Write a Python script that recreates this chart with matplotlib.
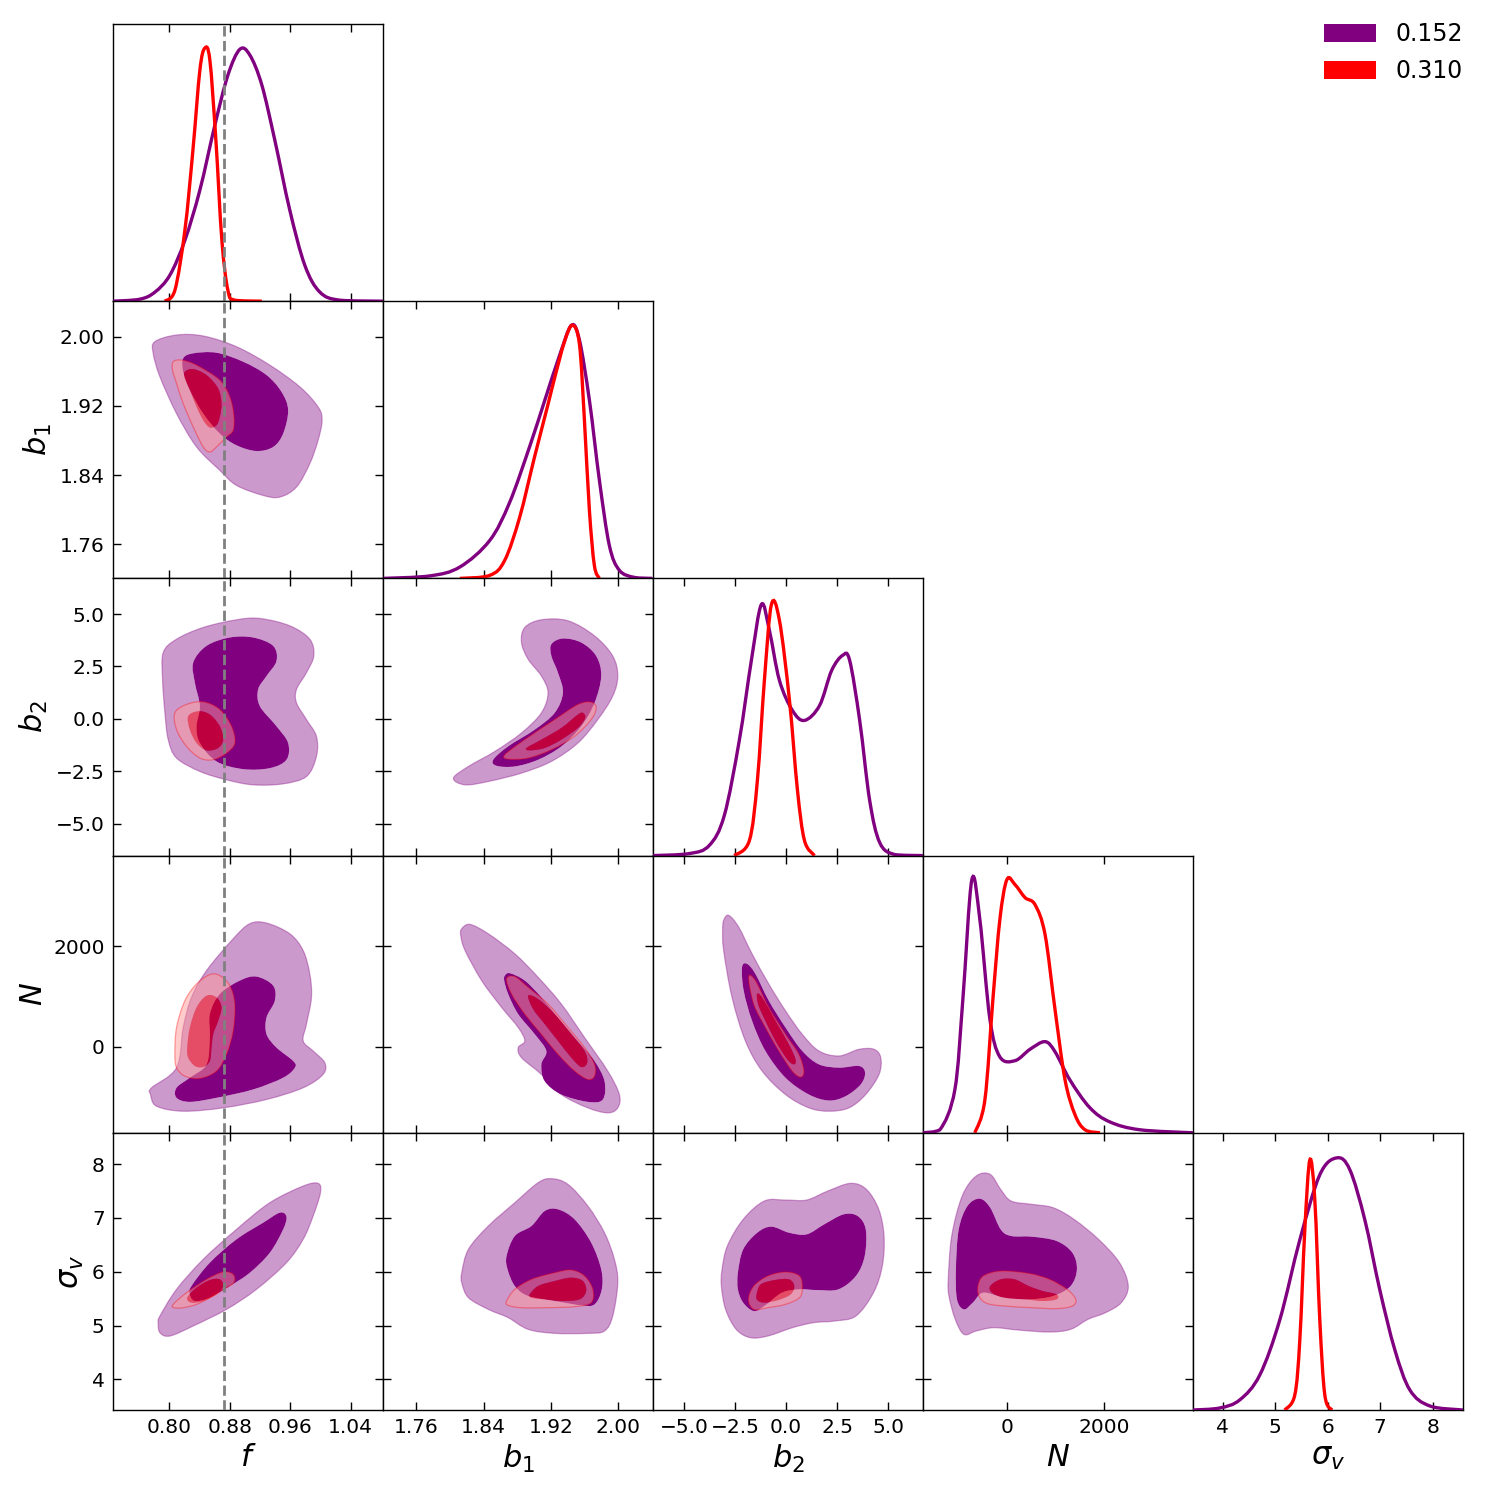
import numpy as np
import matplotlib
matplotlib.use("Agg")
import matplotlib.pyplot as plt
from matplotlib.path import Path
from matplotlib.patches import PathPatch, Patch

# ---------------- data ----------------
param_labels = [r'$f$', r'$b_1$', r'$b_2$', r'$N$', r'$\sigma_v$']
param_limits = [(0.7256, 1.083), (1.7205, 2.041), (-6.52, 6.70), (-1722, 3815), (3.431, 8.58)]
param_ticks = [[0.80, 0.88, 0.96, 1.04], [1.76, 1.84, 1.92, 2.00],
               [-5.0, -2.5, 0.0, 2.5, 5.0], [0, 2000], [4, 5, 6, 7, 8]]
tick_formats = ['{:.2f}', '{:.2f}', '{:.1f}', '{:.0f}', '{:.0f}']
sample_names = ['0.152', '0.310']
f_fiducial = 0.872

# 1D marginals (normalised to peak 1)
f_A_x = [0.7256, 0.7612, 0.7811, 0.8009, 0.8208, 0.8406, 0.8605, 0.8777, 0.8935, 0.9068, 0.9226, 0.9398, 0.9596, 0.9795, 0.9994, 1.0258, 1.0827]
f_A_p = [0.0, 0.008, 0.036, 0.103, 0.241, 0.439, 0.696, 0.893, 0.995, 0.972, 0.854, 0.636, 0.360, 0.142, 0.036, 0.004, 0.0]
f_B_x = [0.7943, 0.8075, 0.8208, 0.8314, 0.8406, 0.8472, 0.8538, 0.8618, 0.8697, 0.8777, 0.8869, 0.9226]
f_B_p = [0.0, 0.043, 0.281, 0.597, 0.913, 1.0, 0.953, 0.636, 0.241, 0.043, 0.004, 0.0]

b1_A_x = [1.7206, 1.7762, 1.8117, 1.8472, 1.8708, 1.8945, 1.9122, 1.9300, 1.9442, 1.9537, 1.9655, 1.9774, 1.9892, 2.0011, 2.0188, 2.0401]
b1_A_p = [0.0, 0.010, 0.045, 0.150, 0.300, 0.520, 0.700, 0.880, 1.0, 0.941, 0.704, 0.387, 0.130, 0.032, 0.004, 0.0]
b1_B_x = [1.8117, 1.8472, 1.8649, 1.8826, 1.9004, 1.9158, 1.9241, 1.9359, 1.9454, 1.9537, 1.9596, 1.9655, 1.9714, 1.9774]
b1_B_p = [0.0, 0.012, 0.071, 0.240, 0.480, 0.680, 0.790, 0.935, 1.0, 0.925, 0.625, 0.269, 0.051, 0.0]

b2_A_x = [-6.568, -4.750, -3.767, -3.031, -2.294, -1.704, -1.213, -0.820, -0.329, 0.310, 0.899, 1.636, 2.225, 2.766, 3.109, 3.600, 4.091, 4.583, 5.320, 6.695]
b2_A_p = [0.0, 0.008, 0.040, 0.158, 0.455, 0.771, 0.992, 0.889, 0.692, 0.573, 0.534, 0.593, 0.731, 0.791, 0.771, 0.534, 0.217, 0.051, 0.004, 0.0]
b2_B_x = [-2.540, -1.803, -1.410, -1.066, -0.722, -0.329, 0.162, 0.555, 0.899, 1.390]
b2_B_p = [0.0, 0.059, 0.296, 0.692, 0.992, 0.929, 0.613, 0.257, 0.059, 0.0]

N_A_x = [-1725, -1376, -1069, -905, -720, -556, -351, -146, 166, 473, 781, 986, 1290, 1700, 2110, 2725, 3812]
N_A_p = [0.0, 0.012, 0.170, 0.526, 1.0, 0.842, 0.450, 0.300, 0.285, 0.330, 0.360, 0.320, 0.209, 0.099, 0.043, 0.012, 0.0]
N_B_x = [-658, -453, -289, -146, -2, 166, 371, 576, 781, 986, 1191, 1396, 1601, 1909]
N_B_p = [0.0, 0.130, 0.526, 0.842, 1.0, 0.980, 0.929, 0.901, 0.783, 0.486, 0.209, 0.071, 0.012, 0.0]

sv_A_x = [3.426, 3.941, 4.323, 4.704, 5.086, 5.468, 5.849, 6.174, 6.422, 6.708, 6.994, 7.281, 7.567, 7.948, 8.578]
sv_A_p = [0.0, 0.008, 0.040, 0.138, 0.356, 0.672, 0.929, 0.996, 0.949, 0.751, 0.474, 0.237, 0.079, 0.016, 0.0]
sv_B_x = [5.181, 5.372, 5.468, 5.563, 5.659, 5.754, 5.849, 5.945, 6.079]
sv_B_p = [0.0, 0.059, 0.277, 0.711, 0.988, 0.830, 0.356, 0.059, 0.0]

# 2D credible contours: (x values, y values); A = 0.152, B = 0.310; 95 = outer, 68 = inner
f_b1_A95 = ([0.7810, 0.8097, 0.8450, 0.8891, 0.9332, 0.9729, 0.9971, 1.0024, 0.9971, 0.9861, 0.9685, 0.9464, 0.9244, 0.8891, 0.8670, 0.8362, 0.8097, 0.7877, 0.7788],
            [1.9942, 2.0019, 2.0008, 1.9884, 1.9671, 1.9420, 1.9188, 1.9034, 1.8802, 1.8531, 1.8261, 1.8145, 1.8164, 1.8280, 1.8454, 1.8725, 1.9111, 1.9536, 1.9807])
f_b1_A68 = ([0.8185, 0.8318, 0.8626, 0.8979, 0.9288, 0.9486, 0.9574, 0.9508, 0.9376, 0.9155, 0.8891, 0.8670, 0.8450, 0.8273, 0.8185],
            [1.9749, 1.9807, 1.9814, 1.9710, 1.9556, 1.9362, 1.9150, 1.8879, 1.8725, 1.8678, 1.8744, 1.8879, 1.9111, 1.9382, 1.9594])
f_b1_B95 = ([0.8053, 0.8163, 0.8362, 0.8670, 0.8803, 0.8856, 0.8847, 0.8759, 0.8626, 0.8538, 0.8450, 0.8318, 0.8185, 0.8097, 0.8044],
            [1.9710, 1.9729, 1.9671, 1.9498, 1.9304, 1.9092, 1.8918, 1.8840, 1.8725, 1.8667, 1.8725, 1.8956, 1.9227, 1.9459, 1.9613])
f_b1_B68 = ([0.8207, 0.8318, 0.8494, 0.8648, 0.8692, 0.8670, 0.8626, 0.8538, 0.8450, 0.8362, 0.8273, 0.8207],
            [1.9594, 1.9625, 1.9556, 1.9401, 1.9227, 1.9072, 1.8976, 1.8949, 1.9034, 1.9188, 1.9382, 1.9517])

f_b2_A95 = ([0.7921, 0.8097, 0.8450, 0.8891, 0.9200, 0.9596, 0.9861, 0.9914, 0.9817, 0.9685, 0.9685, 0.9817, 0.9949, 0.9949, 0.9817, 0.9508, 0.9111, 0.8759, 0.8406, 0.8097, 0.7987, 0.7943, 0.7912],
            [3.162, 3.801, 4.360, 4.727, 4.791, 4.440, 3.801, 3.002, 2.204, 1.405, 0.767, -0.032, -0.830, -1.789, -2.747, -3.098, -3.146, -2.907, -2.507, -1.868, -0.990, 0.287, 1.884])
f_b2_A68 = ([0.8318, 0.8494, 0.8803, 0.9111, 0.9376, 0.9420, 0.9288, 0.9177, 0.9200, 0.9420, 0.9574, 0.9552, 0.9332, 0.8979, 0.8626, 0.8406, 0.8362, 0.8406, 0.8340],
            [2.683, 3.481, 3.881, 3.881, 3.481, 2.763, 2.044, 1.405, 0.607, -0.351, -1.150, -1.948, -2.348, -2.396, -2.028, -1.150, -0.351, 0.607, 1.725])
f_b2_B95 = ([0.8075, 0.8229, 0.8450, 0.8670, 0.8825, 0.8869, 0.8759, 0.8582, 0.8406, 0.8229, 0.8097],
            [0.287, 0.687, 0.814, 0.447, -0.351, -1.150, -1.629, -1.948, -1.868, -1.310, -0.511])
f_b2_B68 = ([0.8251, 0.8384, 0.8538, 0.8670, 0.8714, 0.8648, 0.8494, 0.8362, 0.8273],
            [0.128, 0.367, 0.208, -0.351, -0.990, -1.389, -1.501, -1.150, -0.511])

f_N_A95 = ([0.7766, 0.8097, 0.8185, 0.8295, 0.8494, 0.8847, 0.9067, 0.9288, 0.9596, 0.9773, 0.9861, 0.9883, 0.9817, 0.9773, 0.9905, 1.0059, 1.0037, 0.9773, 0.9288, 0.8714, 0.8185, 0.7832, 0.7753],
           [-823, -421, 381, 983, 1518, 2154, 2455, 2468, 2254, 1920, 1452, 983, 448, 114, -87, -321, -555, -823, -1057, -1224, -1291, -1191, -957])
f_N_A68 = ([0.8097, 0.8273, 0.8494, 0.8538, 0.8538, 0.8670, 0.8935, 0.9155, 0.9376, 0.9398, 0.9288, 0.9288, 0.9420, 0.9641, 0.9663, 0.9508, 0.9111, 0.8626, 0.8273, 0.8097],
           [-823, -622, -355, 181, 649, 1050, 1318, 1398, 1217, 916, 582, 247, -20, -288, -421, -622, -856, -1023, -1104, -1023])
f_N_B95 = ([0.8075, 0.8097, 0.8207, 0.8362, 0.8538, 0.8670, 0.8803, 0.8869, 0.8847, 0.8759, 0.8626, 0.8406, 0.8207, 0.8097],
           [-154, 381, 916, 1251, 1438, 1418, 1217, 850, 314, -154, -488, -635, -589, -421])
f_N_B68 = ([0.8238, 0.8273, 0.8362, 0.8494, 0.8626, 0.8692, 0.8648, 0.8582, 0.8560, 0.8538, 0.8450, 0.8340, 0.8251],
           [-20, 381, 783, 1017, 983, 783, 515, 247, -20, -288, -408, -388, -221])

f_sv_A95 = ([0.7877, 0.8097, 0.8450, 0.8891, 0.9332, 0.9773, 0.9971, 1.0002, 0.9905, 0.9773, 0.9552, 0.9155, 0.8759, 0.8318, 0.8009, 0.7877, 0.7854],
            [5.176, 5.672, 6.229, 6.786, 7.282, 7.591, 7.641, 7.467, 7.034, 6.601, 6.167, 5.672, 5.300, 4.991, 4.805, 4.867, 5.053])
f_sv_A68 = ([0.8295, 0.8538, 0.8891, 0.9244, 0.9464, 0.9552, 0.9508, 0.9332, 0.9067, 0.8803, 0.8538, 0.8340, 0.8273],
            [5.734, 6.167, 6.601, 6.910, 7.096, 7.022, 6.786, 6.353, 5.981, 5.734, 5.517, 5.455, 5.579])
f_sv_B95 = ([0.8053, 0.8229, 0.8494, 0.8714, 0.8847, 0.8856, 0.8714, 0.8538, 0.8362, 0.8185, 0.8062],
            [5.393, 5.610, 5.858, 5.994, 5.950, 5.796, 5.672, 5.517, 5.393, 5.331, 5.331])
f_sv_B68 = ([0.8238, 0.8362, 0.8538, 0.8670, 0.8714, 0.8626, 0.8450, 0.8295],
            [5.517, 5.703, 5.845, 5.858, 5.734, 5.579, 5.455, 5.424])

b1_b2_A95 = ([1.8041, 1.8219, 1.8534, 1.8849, 1.9085, 1.9164, 1.9085, 1.8928, 1.8849, 1.8888, 1.9085, 1.9401, 1.9716, 1.9932, 1.9992, 1.9932, 1.9755, 1.9519, 1.9204, 1.8849, 1.8455, 1.8179],
             [-2.827, -2.268, -1.549, -0.671, 0.287, 1.246, 2.044, 2.843, 3.641, 4.360, 4.727, 4.679, 3.961, 3.002, 2.044, 1.086, -0.032, -1.150, -2.028, -2.587, -2.986, -3.146])
b1_b2_A68 = ([1.8514, 1.8691, 1.9007, 1.9243, 1.9341, 1.9282, 1.9204, 1.9204, 1.9341, 1.9558, 1.9735, 1.9795, 1.9716, 1.9558, 1.9322, 1.9046, 1.8770, 1.8553],
             [-1.948, -1.310, -0.511, 0.287, 1.246, 2.204, 3.002, 3.561, 3.833, 3.641, 3.002, 2.044, 0.767, -0.351, -1.310, -1.948, -2.268, -2.236])
b1_b2_B95 = ([1.8652, 1.8888, 1.9243, 1.9519, 1.9676, 1.9735, 1.9676, 1.9479, 1.9204, 1.8928, 1.8691],
             [-1.709, -0.990, -0.032, 0.687, 0.799, 0.527, -0.032, -0.830, -1.469, -1.868, -1.916])
b1_b2_B68 = ([1.8908, 1.9085, 1.9322, 1.9519, 1.9578, 1.9605, 1.9519, 1.9322, 1.9125, 1.8947],
             [-1.389, -0.990, -0.431, 0.208, 0.287, 0.048, -0.431, -0.990, -1.389, -1.501])

b1_N_A95 = ([1.8140, 1.8238, 1.8455, 1.8770, 1.9046, 1.9322, 1.9598, 1.9873, 2.0011, 1.9992, 1.9873, 1.9637, 1.9322, 1.9085, 1.8849, 1.8810, 1.8888, 1.8810, 1.8613, 1.8376, 1.8179, 1.8128],
            [2355, 2441, 2254, 1853, 1385, 850, 181, -488, -957, -1224, -1324, -1224, -957, -555, -221, -20, 114, 381, 783, 1318, 1920, 2221])
b1_N_A68 = ([1.8652, 1.8711, 1.8888, 1.9085, 1.9282, 1.9519, 1.9716, 1.9834, 1.9814, 1.9637, 1.9322, 1.9125, 1.9085, 1.9144, 1.9007, 1.8810, 1.8691, 1.8644],
            [1418, 1465, 1318, 983, 582, 114, -288, -689, -1057, -1104, -957, -689, -355, -87, 247, 649, 1050, 1318])
b1_N_B95 = ([1.8672, 1.8770, 1.8928, 1.9164, 1.9401, 1.9598, 1.9716, 1.9716, 1.9637, 1.9479, 1.9282, 1.9085, 1.8888, 1.8731],
            [1351, 1398, 1184, 850, 381, -20, -355, -589, -656, -488, -154, 247, 649, 1050])
b1_N_B68 = ([1.8928, 1.9046, 1.9243, 1.9440, 1.9598, 1.9629, 1.9558, 1.9440, 1.9282, 1.9125, 1.8987],
            [1017, 950, 649, 247, -87, -321, -408, -221, 114, 448, 749])

b1_sv_A95 = ([1.8140, 1.8219, 1.8455, 1.8770, 1.9046, 1.9204, 1.9401, 1.9637, 1.9834, 1.9952, 1.9992, 1.9932, 1.9834, 1.9637, 1.9243, 1.8928, 1.8691, 1.8455, 1.8219, 1.8140],
             [5.981, 6.415, 6.848, 7.282, 7.653, 7.728, 7.622, 7.220, 6.724, 6.229, 5.796, 5.176, 4.898, 4.855, 4.855, 4.929, 5.146, 5.300, 5.517, 5.796])
b1_sv_A68 = ([1.8672, 1.8770, 1.8967, 1.9125, 1.9282, 1.9479, 1.9676, 1.9795, 1.9802, 1.9716, 1.9558, 1.9243, 1.8928, 1.8770, 1.8684],
             [6.291, 6.663, 6.848, 7.127, 7.158, 6.972, 6.539, 6.043, 5.672, 5.393, 5.375, 5.455, 5.548, 5.734, 6.043])
b1_sv_B95 = ([1.8672, 1.8770, 1.8967, 1.9243, 1.9440, 1.9598, 1.9696, 1.9676, 1.9479, 1.9164, 1.8849, 1.8691],
             [5.455, 5.672, 5.858, 5.981, 6.031, 5.920, 5.672, 5.424, 5.350, 5.331, 5.331, 5.375])
b1_sv_B68 = ([1.8947, 1.9046, 1.9243, 1.9440, 1.9578, 1.9617, 1.9538, 1.9322, 1.9125, 1.8967],
             [5.579, 5.734, 5.827, 5.889, 5.827, 5.641, 5.486, 5.455, 5.486, 5.517])

b2_N_A95 = ([-3.061, -2.815, -2.324, -1.669, -0.851, -0.033, 0.786, 1.604, 2.586, 3.568, 4.305, 4.632, 4.550, 3.895, 3.077, 2.095, 1.113, -0.033, -1.178, -1.997, -2.651, -3.061, -3.110],
            [2522, 2622, 2388, 1853, 1251, 716, 247, -87, -187, -54, -54, -221, -555, -957, -1224, -1291, -1224, -957, -488, 114, 983, 1920, 2321])
b2_N_A68 = ([-2.160, -1.915, -1.506, -0.851, -0.033, 0.786, 1.604, 2.586, 3.568, 3.863, 3.650, 2.913, 2.095, 1.113, -0.033, -1.015, -1.669, -2.079],
            [1585, 1652, 1452, 916, 381, -87, -355, -421, -388, -522, -756, -990, -1077, -957, -622, -87, 515, 1117])
b2_N_B95 = ([-1.833, -1.506, -0.851, -0.033, 0.622, 0.867, 0.704, 0.295, -0.360, -1.015, -1.588],
            [1385, 1318, 783, 247, -154, -488, -609, -488, -87, 381, 850])
b2_N_B68 = ([-1.424, -1.178, -0.524, 0.131, 0.458, 0.376, 0.049, -0.524, -1.097, -1.375],
            [1050, 983, 515, 47, -254, -355, -254, 114, 582, 850])

b2_sv_A95 = ([-3.138, -2.879, -2.103, -1.069, -0.034, 1.000, 2.034, 3.155, 3.931, 4.534, 4.793, 4.707, 4.276, 3.414, 2.379, 1.345, 0.310, -0.896, -1.758, -2.448, -2.965, -3.172],
             [6.043, 6.477, 6.972, 7.313, 7.331, 7.331, 7.498, 7.641, 7.529, 7.158, 6.663, 6.105, 5.610, 5.176, 5.084, 5.053, 4.960, 4.805, 4.774, 4.929, 5.300, 5.734])
b2_sv_A68 = ([-2.362, -2.103, -1.414, -0.724, 0.138, 1.000, 1.862, 2.810, 3.500, 3.897, 3.845, 3.414, 2.552, 1.517, 0.655, -0.207, -1.069, -1.586, -2.103, -2.362],
             [5.981, 6.415, 6.724, 6.836, 6.724, 6.693, 6.879, 7.065, 7.034, 6.786, 6.291, 5.920, 5.672, 5.659, 5.672, 5.610, 5.362, 5.269, 5.424, 5.672])
b2_sv_B95 = ([-1.845, -1.586, -0.896, -0.034, 0.655, 0.793, 0.655, -0.034, -0.896, -1.586],
             [5.486, 5.734, 5.920, 5.994, 5.920, 5.703, 5.517, 5.393, 5.331, 5.300])
b2_sv_B68 = ([-1.448, -1.241, -0.552, 0.138, 0.397, 0.224, -0.379, -1.069, -1.414],
             [5.579, 5.765, 5.845, 5.858, 5.734, 5.579, 5.474, 5.424, 5.474])

N_sv_A95 = ([-1204, -1133, -918, -631, -344, -129, 86, 516, 946, 1376, 1878, 2308, 2487, 2344, 2021, 1663, 1305, 874, 229, -272, -631, -882, -1061, -1190],
            [5.858, 6.663, 7.406, 7.777, 7.808, 7.529, 7.313, 7.251, 7.189, 6.972, 6.601, 6.167, 5.734, 5.424, 5.238, 5.115, 4.929, 4.879, 4.916, 4.960, 4.898, 4.836, 5.115, 5.548])
N_sv_A68 = ([-1047, -989, -810, -559, -344, -129, 86, 516, 1018, 1340, 1434, 1305, 946, 444, -57, -487, -702, -882, -1025],
            [6.043, 6.786, 7.220, 7.356, 7.189, 6.786, 6.663, 6.650, 6.570, 6.353, 6.043, 5.734, 5.548, 5.486, 5.517, 5.610, 5.424, 5.300, 5.486])
N_sv_B95 = ([-595, -487, -129, 444, 874, 1233, 1412, 1340, 1018, 516, -57, -416, -573],
            [5.734, 5.920, 6.012, 5.969, 5.858, 5.672, 5.486, 5.362, 5.313, 5.331, 5.362, 5.412, 5.548])
N_sv_B68 = ([-344, -129, 158, 444, 731, 1018, 1018, 731, 373, -57, -308],
            [5.734, 5.858, 5.858, 5.734, 5.641, 5.579, 5.486, 5.455, 5.486, 5.517, 5.610])

# tables built from the named arrays
marginals = {0: [(f_A_x, f_A_p), (f_B_x, f_B_p)],
             1: [(b1_A_x, b1_A_p), (b1_B_x, b1_B_p)],
             2: [(b2_A_x, b2_A_p), (b2_B_x, b2_B_p)],
             3: [(N_A_x, N_A_p), (N_B_x, N_B_p)],
             4: [(sv_A_x, sv_A_p), (sv_B_x, sv_B_p)]}
contours = {(0, 1): [(f_b1_A95, f_b1_A68), (f_b1_B95, f_b1_B68)],
            (0, 2): [(f_b2_A95, f_b2_A68), (f_b2_B95, f_b2_B68)],
            (0, 3): [(f_N_A95, f_N_A68), (f_N_B95, f_N_B68)],
            (0, 4): [(f_sv_A95, f_sv_A68), (f_sv_B95, f_sv_B68)],
            (1, 2): [(b1_b2_A95, b1_b2_A68), (b1_b2_B95, b1_b2_B68)],
            (1, 3): [(b1_N_A95, b1_N_A68), (b1_N_B95, b1_N_B68)],
            (1, 4): [(b1_sv_A95, b1_sv_A68), (b1_sv_B95, b1_sv_B68)],
            (2, 3): [(b2_N_A95, b2_N_A68), (b2_N_B95, b2_N_B68)],
            (2, 4): [(b2_sv_A95, b2_sv_A68), (b2_sv_B95, b2_sv_B68)],
            (3, 4): [(N_sv_A95, N_sv_A68), (N_sv_B95, N_sv_B68)]}

# ---------------- style ----------------
line_colors = ['#800080', '#ff0000']
fill_outer = [((0.8, 0.6, 0.8), 1.0), ((1.0, 0.6, 0.6), 0.5)]
fill_inner = [((0.5, 0.0, 0.5), 1.0), ((1.0, 0.0, 0.0), 0.5)]
TICK_FS = 14.5
LABEL_FS = 22


def _closed_bezier(xs, ys):
    P = np.column_stack([xs, ys]).astype(float)
    n = len(P)
    verts = [P[0]]
    codes = [Path.MOVETO]
    for i in range(n):
        p0, p1, p2, p3 = P[i - 1], P[i], P[(i + 1) % n], P[(i + 2) % n]
        verts += [p1 + (p2 - p0) / 6.0, p2 - (p3 - p1) / 6.0, p2]
        codes += [Path.CURVE4] * 3
    verts.append(P[0])
    codes.append(Path.CLOSEPOLY)
    return verts, codes


def _open_bezier(xs, ys):
    P = np.column_stack([xs, ys]).astype(float)
    n = len(P)
    verts = [P[0]]
    codes = [Path.MOVETO]
    for i in range(n - 1):
        p0 = P[i - 1] if i > 0 else P[0]
        p1, p2 = P[i], P[i + 1]
        p3 = P[i + 2] if i + 2 < n else P[-1]
        c1 = p1 + (p2 - p0) / 6.0
        c2 = p2 - (p3 - p1) / 6.0
        c1[1] = max(c1[1], 0.0)
        c2[1] = max(c2[1], 0.0)
        verts += [c1, c2, p2]
        codes += [Path.CURVE4] * 3
    return Path(verts, codes)


def _area(xs, ys, sx, sy):
    x = np.asarray(xs) / sx
    y = np.asarray(ys) / sy
    return 0.5 * np.sum(x * np.roll(y, -1) - np.roll(x, -1) * y)


plt.rcParams['font.family'] = ['DejaVu Sans']
plt.rcParams['mathtext.fontset'] = 'dejavusans'

W, H = 1489, 1492
fig = plt.figure(figsize=(W / 100, H / 100), dpi=100)
left0, top0, cw, ch = 113, 24, 270, 277.2
n = 5
axes = {}
for i in range(n):
    for j in range(i + 1):
        rect = [(left0 + j * cw) / W, 1 - (top0 + (i + 1) * ch) / H, cw / W, ch / H]
        axes[(i, j)] = fig.add_axes(rect)


def fmt_ticks(vals, k):
    return [tick_formats[k].format(v).replace('-', '\u2212') for v in vals]


for (i, j), ax in axes.items():
    ax.set_xlim(*param_limits[j])
    ax.set_xticks(param_ticks[j])
    ax.tick_params(direction='in', top=True, right=True, length=6, width=1.0,
                   labelsize=TICK_FS, pad=6)
    for s in ax.spines.values():
        s.set_linewidth(1.0)
    if i == j:
        ax.set_ylim(0, 1.095)
        ax.set_yticks([])
        ax.tick_params(right=False, left=False)
        for s, (xs, ps) in enumerate(marginals[i]):
            ax.add_patch(PathPatch(_open_bezier(xs, ps), fill=False,
                                   edgecolor=line_colors[s], lw=2.4, zorder=3 + s))
    else:
        ax.set_ylim(*param_limits[i])
        ax.set_yticks(param_ticks[i])
        sx = param_limits[j][1] - param_limits[j][0]
        sy = param_limits[i][1] - param_limits[i][0]
        for s, (outer, inner) in enumerate(contours[(j, i)]):
            ov, oc = _closed_bezier(*outer)
            ao = _area(outer[0], outer[1], sx, sy)
            ai = _area(inner[0], inner[1], sx, sy)
            ix, iy = list(inner[0]), list(inner[1])
            if np.sign(ao) == np.sign(ai):
                ix, iy = ix[::-1], iy[::-1]
            iv, ic = _closed_bezier(ix, iy)
            ring = Path(ov + iv, oc + ic)
            col, a = fill_outer[s]
            ax.add_patch(PathPatch(ring, facecolor=col, alpha=a, edgecolor='none',
                                   zorder=2 + 2 * s))
            ax.add_patch(PathPatch(Path(ov, oc), facecolor='none',
                                   edgecolor=line_colors[s], alpha=0.35, lw=0.9,
                                   zorder=2 + 2 * s))
            colI, aI = fill_inner[s]
            iv2, ic2 = _closed_bezier(*inner)
            ax.add_patch(PathPatch(Path(iv2, ic2), facecolor=colI, alpha=aI,
                                   edgecolor='none', zorder=3 + 2 * s))
    if j == 0:
        ax.axvline(f_fiducial, color='grey', ls='--', lw=2.0, zorder=10)
    if i == n - 1:
        ax.set_xticklabels(fmt_ticks(param_ticks[j], j))
        ax.set_xlabel(param_labels[j], fontsize=LABEL_FS)
    else:
        ax.set_xticklabels([])
    if j == 0 and i > 0:
        ax.set_yticklabels(fmt_ticks(param_ticks[i], i))
        ax.set_ylabel(param_labels[i], fontsize=LABEL_FS)
    elif i != j:
        ax.set_yticklabels([])

handles = [Patch(facecolor=line_colors[0], edgecolor='none', label=sample_names[0]),
           Patch(facecolor=line_colors[1], edgecolor='none', label=sample_names[1])]
fig.legend(handles=handles, loc='upper right', bbox_to_anchor=(1484 / W, 1 - 1 / H),
           frameon=False, fontsize=17, handlelength=2.2, handleheight=0.8,
           handletextpad=0.8, labelspacing=0.55)

fig.savefig('out.png', dpi=100)
